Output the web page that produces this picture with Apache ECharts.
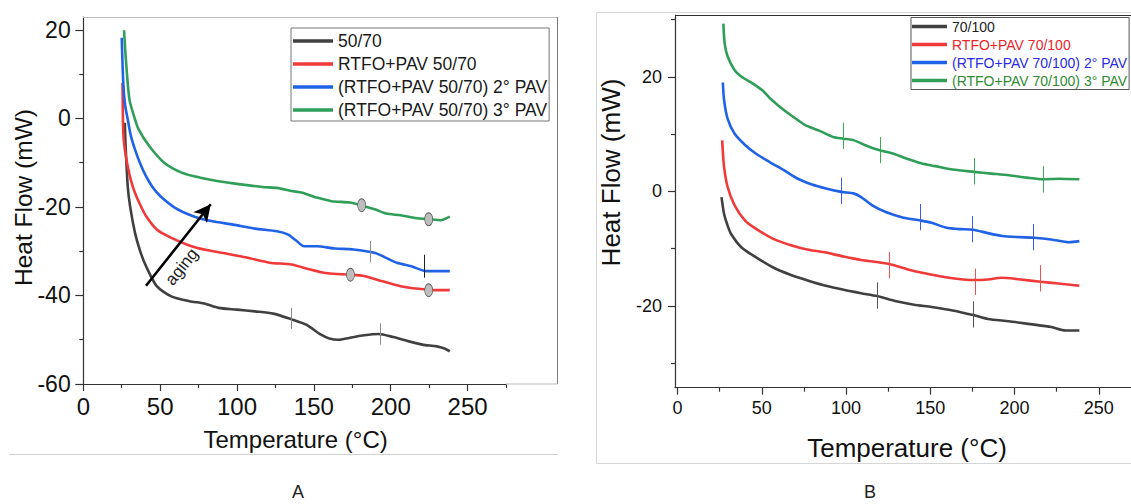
<!DOCTYPE html>
<html>
<head>
<meta charset="utf-8">
<script src="https://cdn.jsdelivr.net/npm/echarts@6/dist/echarts.min.js"></script>
<style>
html,body{margin:0;padding:0;background:#fff;}
#c{width:1131px;height:504px;}
</style>
</head>
<body>
<div id="c"></div>
<script>
// ---------- Panel A (50/70) ----------
const namesA = ['50/70', 'RTFO+PAV 50/70', '(RTFO+PAV 50/70) 2° PAV', '(RTFO+PAV 50/70) 3° PAV'];
const black5070 = [[27,-1],[27.5,-6],[28.9,-15.3],[30.5,-20],[33.6,-25.8],[37,-30],[40.7,-33.3],[47.8,-37.9],[57.3,-40.2],[69,-41.3],[78.6,-41.8],[88,-42.8],[100,-43.2],[111.7,-43.6],[123.6,-44.1],[135.4,-45.4],[145,-46.6],[154.4,-48.8],[160,-49.7],[166,-50],[173,-49.6],[182.8,-49],[192,-48.7],[201.7,-49.4],[211,-50.3],[220.6,-51.1],[230,-51.5],[235,-52],[238.4,-52.6]];
const red5070 = [[25.5,8],[26,-3.2],[27,-7],[28.9,-10.8],[31,-14],[33.6,-16.8],[37,-19.5],[40.7,-22],[47.8,-25.1],[57.3,-27],[69,-28.7],[81,-29.8],[92.8,-30.5],[107,-31.5],[121.2,-32.6],[135.4,-33],[147.2,-34.1],[159,-35],[173.3,-35.3],[182.8,-35.6],[194.6,-36.8],[206.4,-37.9],[218.3,-38.5],[228,-38.8],[238.4,-38.8]];
const blue5070 = [[25,18.2],[26,8],[27.2,3],[28.9,-0.2],[31,-4],[33.6,-7],[37,-10.2],[40.7,-13],[45,-15.5],[50.2,-17.6],[59.7,-20.2],[71.5,-22.1],[83.3,-23.2],[97.5,-24],[111.7,-24.9],[126,-25.5],[133,-26.2],[137.8,-27.4],[143.7,-28.9],[152,-28.9],[163.8,-29.4],[175.7,-29.6],[189.9,-30.4],[197,-31.5],[204,-32.6],[213.5,-33.4],[223,-34.5],[238.4,-34.5]];
const green5070 = [[26.5,19.9],[27.7,13.3],[30,4.3],[33,0.5],[36,-2.5],[43,-6.3],[52.6,-10],[64.4,-12.3],[76.2,-13.4],[88,-14.2],[102.3,-14.9],[116.5,-15.5],[126,-15.7],[135.4,-16.4],[142.5,-16.8],[152,-17.9],[161.5,-18.7],[173.3,-19],[180.4,-19.6],[190,-20.6],[197,-21.5],[206.4,-21.9],[216,-22.5],[225.4,-22.8],[232.5,-23],[238.4,-22.2]];
// markers panel A: [temperature, heat flow]
const ticksBlackA = [[135.4,-45.2],[193,-48.7]];
const ticksBlueA = [[187,-30.1]];
const ticksBlueDarkA = [[221.8,-33.4]];
const ovalsRedA = [[173.8,-35.3],[224.7,-38.8]];
const ovalsGreenA = [[181.1,-19.6],[224.7,-22.8]];
const agingArrow = [[40.8,-37.8],[82.9,-19.4]];

// ---------- Panel B (70/100) ----------
const namesB = ['70/100', 'RTFO+PAV 70/100', '(RTFO+PAV 70/100) 2° PAV', '(RTFO+PAV 70/100) 3° PAV'];
const black70100 = [[26.1,-1],[27.6,-3.9],[29.5,-5.8],[31.7,-7.4],[38,-9.8],[46.4,-11.5],[56.8,-13.3],[67.3,-14.6],[77.7,-15.6],[88.1,-16.5],[98.6,-17.2],[109,-17.8],[118.4,-18.3],[129.9,-19.2],[140.4,-19.8],[150.8,-20.2],[163.3,-20.8],[175.4,-21.6],[184.2,-22.3],[196.7,-22.7],[209.3,-23.2],[221.8,-23.7],[230.2,-24.3],[238.5,-24.3]];
const red70100 = [[26.5,8.9],[27.6,4.3],[29.7,0.8],[33.8,-2.4],[40.1,-5.1],[46.4,-6.5],[56.8,-8.3],[67.3,-9.4],[77.7,-10.2],[88.1,-10.7],[98.6,-11.4],[109,-12],[125.7,-12.7],[136.2,-13.6],[146.6,-14.3],[159.1,-15],[169.6,-15.4],[176.9,-15.5],[184.2,-15.4],[192.6,-15.1],[200.9,-15.3],[215.5,-15.8],[225.9,-16.1],[238.5,-16.5]];
const blue70100 = [[26.9,19],[27.6,16],[29.7,12.7],[33.8,10.1],[40.1,8.1],[46.4,6.6],[54.7,5.1],[63.1,3.7],[71.4,2.2],[79.8,1.2],[88.1,0.5],[97.1,-0.1],[104.8,-0.4],[109,-1],[115.3,-2.4],[123.6,-3.6],[134.1,-4.6],[144.1,-5.1],[150.8,-5.5],[159.1,-6.3],[167.5,-6.6],[175.4,-6.7],[184.2,-7.3],[192.6,-7.8],[203,-8],[211.4,-8.1],[221.8,-8.4],[232.3,-8.9],[238.5,-8.7]];
const green70100 = [[27.2,29.3],[28,25.8],[29.7,23.6],[33.8,21.2],[38,20],[44.3,18.9],[50.5,17.6],[54.7,16.3],[61,14.7],[67.3,13.3],[75.6,11.6],[84,10.6],[92.3,9.5],[98.6,9.2],[104.8,8.9],[111.1,8.1],[119.5,7.2],[127.8,6.6],[136.2,5.7],[144.5,4.9],[152.9,4.4],[163.3,3.8],[175.9,3.4],[186.3,3.1],[196.7,2.8],[207.2,2.4],[217.2,2.1],[226,2.2],[238.5,2.1]];
const ticksBlackB = [[118.4,-18.2],[175.4,-21.5]];
const ticksRedB = [[125.7,-12.9],[176.9,-15.8],[215.5,-15.2]];
const ticksBlueB = [[97.1,0.1],[144.1,-4.5],[175.2,-6.6],[211.4,-8]];
const ticksGreenB = [[98.6,9.7],[120.5,7.2],[175.9,3.5],[217.2,2.1]];

// axis tick/label values
const xLabels = [0,50,100,150,200,250];
const xMinorA = [25,75,125,175,225,275];
const yLabelsA = [-60,-40,-20,0,20];
const yMinorA = [-50,-30,-10,10];
const xTicksB = [0,50,100,150,200,250,300];
const xMinorB = [25,75,125,175,225,275];
const yLabelsB = [-20,0,20];
const yMinorB = [-30,-10,10,30];

const FONT = 'Liberation Sans, Arial, sans-serif';
const C = {black:'#404040', red:'#f03a3a', blue:'#1f62e6', green:'#2e9e58'};
const OVAL = 'path://M0,50a50,50 0 1,0 100,0a50,50 0 1,0 -100,0z';

function tickPairs(list, half, color) {
  return list.map(p => [
    {coord: [p[0], p[1] - half], lineStyle: {color: color, width: 1, type: 'solid'}},
    {coord: [p[0], p[1] + half]}
  ]);
}
function vTicks(pairs) {
  return {
    silent: true, symbol: ['none','none'], animation: false,
    label: {show: false},
    lineStyle: {width: 1, type: 'solid'},
    emphasis: {disabled: true},
    data: pairs
  };
}
function ovals(list) {
  return {
    silent: true, animation: false,
    symbol: OVAL, symbolSize: [8, 13],
    itemStyle: {color: '#bdbdbd', borderColor: '#555', borderWidth: 0.8},
    label: {show: false},
    data: list.map(p => ({coord: p}))
  };
}
function lineSeries(name, data, color, xi, yi, extra) {
  return Object.assign({
    name: name, type: 'line', data: data, xAxisIndex: xi, yAxisIndex: yi,
    symbol: 'none', smooth: 0.25, animation: false,
    lineStyle: {color: color, width: 2.6}, itemStyle: {color: color},
    emphasis: {disabled: true}
  }, extra || {});
}
function xAxisMain(grid, min, max, ticks, labels, fs, margin) {
  return {gridIndex: grid, type: 'value', position: 'bottom', min: min, max: max,
    axisLine: {onZero: false, lineStyle: {color: '#333', width: 1.2}},
    axisTick: {customValues: ticks, length: 7, lineStyle: {color: '#333', width: 1.2}},
    axisLabel: {customValues: labels, fontSize: fs, margin: margin, color: '#111', fontFamily: FONT},
    splitLine: {show: false}};
}
function minorAxis(grid, pos, min, max, ticks) {
  return {gridIndex: grid, type: 'value', position: pos, min: min, max: max,
    axisLine: {show: false, onZero: false},
    axisTick: {show: true, customValues: ticks, length: 4, lineStyle: {color: '#333', width: 1.2}},
    axisLabel: {show: false}, splitLine: {show: false}};
}

const chart = echarts.init(document.getElementById('c'), null, {renderer: 'svg'});
const option = {
  backgroundColor: '#fff',
  animation: false,
  grid: [
    {left: 83.3, top: 17, width: 422.7, height: 367, containLabel: false, outerBoundsMode: 'none'},
    {left: 675, top: 15, width: 508, height: 372.7, containLabel: false, outerBoundsMode: 'none'}
  ],
  xAxis: [
    xAxisMain(0, 0, 275, xLabels, xLabels, 24, 10),
    minorAxis(0, 'bottom', 0, 275, xMinorA),
    xAxisMain(1, -1.5, 300, xTicksB, xLabels, 18, 11),
    minorAxis(1, 'bottom', -1.5, 300, xMinorB)
  ],
  yAxis: [
    {gridIndex: 0, type: 'value', position: 'left', min: -60, max: 22.9,
      axisLine: {show: true, onZero: false, lineStyle: {color: '#333', width: 1.2}},
      axisTick: {show: true, customValues: yLabelsA, length: 8, lineStyle: {color: '#333', width: 1.2}},
      axisLabel: {customValues: yLabelsA, fontSize: 23, margin: 12.6, color: '#111', fontFamily: FONT},
      splitLine: {show: false}},
    minorAxis(0, 'left', -60, 22.9, yMinorA),
    {gridIndex: 1, type: 'value', position: 'left', min: -34.3, max: 30.8,
      axisLine: {show: true, onZero: false, lineStyle: {color: '#333', width: 1.2}},
      axisTick: {show: true, customValues: yLabelsB, length: 7, lineStyle: {color: '#333', width: 1.2}},
      axisLabel: {customValues: yLabelsB, fontSize: 18, margin: 13, color: '#111', fontFamily: FONT},
      splitLine: {show: false}},
    minorAxis(1, 'left', -34.3, 30.8, yMinorB)
  ],
  legend: [
    {data: namesA, left: 291, top: 28, orient: 'vertical', icon: 'rect', itemWidth: 40, itemHeight: 3.5, itemGap: 5,
      padding: [4, 2, 2, 2], borderColor: '#777', borderWidth: 1, backgroundColor: '#fff',
      textStyle: {fontSize: 17.5, color: '#1a1a1a', fontFamily: FONT}, selectedMode: false, z: 10},
    {data: [
        {name: namesB[0], textStyle: {color: '#222'}},
        {name: namesB[1], textStyle: {color: '#e8262b'}},
        {name: namesB[2], textStyle: {color: '#2a2ae8'}},
        {name: namesB[3], textStyle: {color: '#2f8c32'}}
      ],
      left: 911, top: 17.5, orient: 'vertical', icon: 'rect', itemWidth: 35, itemHeight: 3.5, itemGap: 4,
      padding: [2, 2, 2, 1], borderColor: '#555', borderWidth: 1, backgroundColor: '#fff',
      textStyle: {fontSize: 14, fontFamily: FONT}, selectedMode: false, z: 10}
  ],
  series: [
    lineSeries(namesA[0], black5070, C.black, 0, 0, {markLine: vTicks(tickPairs(ticksBlackA, 2.4, '#8a8a8a'))}),
    lineSeries(namesA[1], red5070, C.red, 0, 0, {markPoint: ovals(ovalsRedA)}),
    lineSeries(namesA[2], blue5070, C.blue, 0, 0, {markLine: vTicks(tickPairs(ticksBlueA, 2.4, '#8a8a8a').concat(tickPairs(ticksBlueDarkA, 2.6, '#222')))}),
    lineSeries(namesA[3], green5070, C.green, 0, 0, {markPoint: ovals(ovalsGreenA)}),
    {name: 'aging', type: 'line', data: [], xAxisIndex: 0, yAxisIndex: 0, symbol: 'none',
      markLine: {silent: true, animation: false, symbol: ['none', 'arrow'], symbolSize: [13, 17],
        label: {show: false}, lineStyle: {color: '#000', width: 2.6, type: 'solid'},
        data: [[{coord: agingArrow[0]}, {coord: agingArrow[1]}]]}},
    lineSeries(namesB[0], black70100, C.black, 2, 2, {markLine: vTicks(tickPairs(ticksBlackB, 2.3, '#555'))}),
    lineSeries(namesB[1], red70100, C.red, 2, 2, {markLine: vTicks(tickPairs(ticksRedB, 2.3, '#f05050'))}),
    lineSeries(namesB[2], blue70100, C.blue, 2, 2, {markLine: vTicks(tickPairs(ticksBlueB, 2.3, '#3a5af0'))}),
    lineSeries(namesB[3], green70100, C.green, 2, 2, {markLine: vTicks(tickPairs(ticksGreenB, 2.3, '#3aaa55'))})
  ],
  graphic: [
    {type: 'rect', z: 0, shape: {x: 596.5, y: 12.5, width: 560, height: 451}, style: {fill: 'none', stroke: '#d6d6d6', lineWidth: 1}},
    {type: 'line', z: 0, shape: {x1: 9, y1: 454.5, x2: 558, y2: 454.5}, style: {stroke: '#cfcfcf', lineWidth: 1}},
    {type: 'line', z: 1, shape: {x1: 83, y1: 17.5, x2: 557.5, y2: 17.5}, style: {stroke: '#bbbbbb', lineWidth: 1}},
    {type: 'line', z: 1, shape: {x1: 557.5, y1: 17, x2: 557.5, y2: 384}, style: {stroke: '#7a7a7a', lineWidth: 1}},
    {type: 'line', z: 1, shape: {x1: 506, y1: 384, x2: 557.5, y2: 384}, style: {stroke: '#bbbbbb', lineWidth: 1}},
    {type: 'line', z: 1, shape: {x1: 675, y1: 15.5, x2: 1131, y2: 15.5}, style: {stroke: '#333', lineWidth: 1.2}},
    {type: 'text', x: 295.6, y: 439, style: {text: 'Temperature (°C)', fontSize: 24, fontFamily: FONT, fill: '#111', align: 'center', verticalAlign: 'middle'}},
    {type: 'text', x: 23.7, y: 197.5, rotation: Math.PI / 2, style: {text: 'Heat Flow (mW)', fontSize: 24.5, fontFamily: FONT, fill: '#111', align: 'center', verticalAlign: 'middle'}},
    {type: 'text', x: 907, y: 448, style: {text: 'Temperature (°C)', fontSize: 26, fontFamily: FONT, fill: '#111', align: 'center', verticalAlign: 'middle'}},
    {type: 'text', x: 610.5, y: 172.5, rotation: Math.PI / 2, style: {text: 'Heat Flow (mW)', fontSize: 26, fontFamily: FONT, fill: '#111', align: 'center', verticalAlign: 'middle'}},
    {type: 'text', x: 181.7, y: 266.7, rotation: 0.9, style: {text: 'aging', fontSize: 17, fontFamily: FONT, fill: '#222', align: 'center', verticalAlign: 'middle'}},
    {type: 'text', x: 298, y: 492, style: {text: 'A', fontSize: 18, fontFamily: FONT, fill: '#222', align: 'center', verticalAlign: 'middle'}},
    {type: 'text', x: 870, y: 492, style: {text: 'B', fontSize: 18, fontFamily: FONT, fill: '#222', align: 'center', verticalAlign: 'middle'}}
  ]
};
chart.setOption(option);
</script>
</body>
</html>
